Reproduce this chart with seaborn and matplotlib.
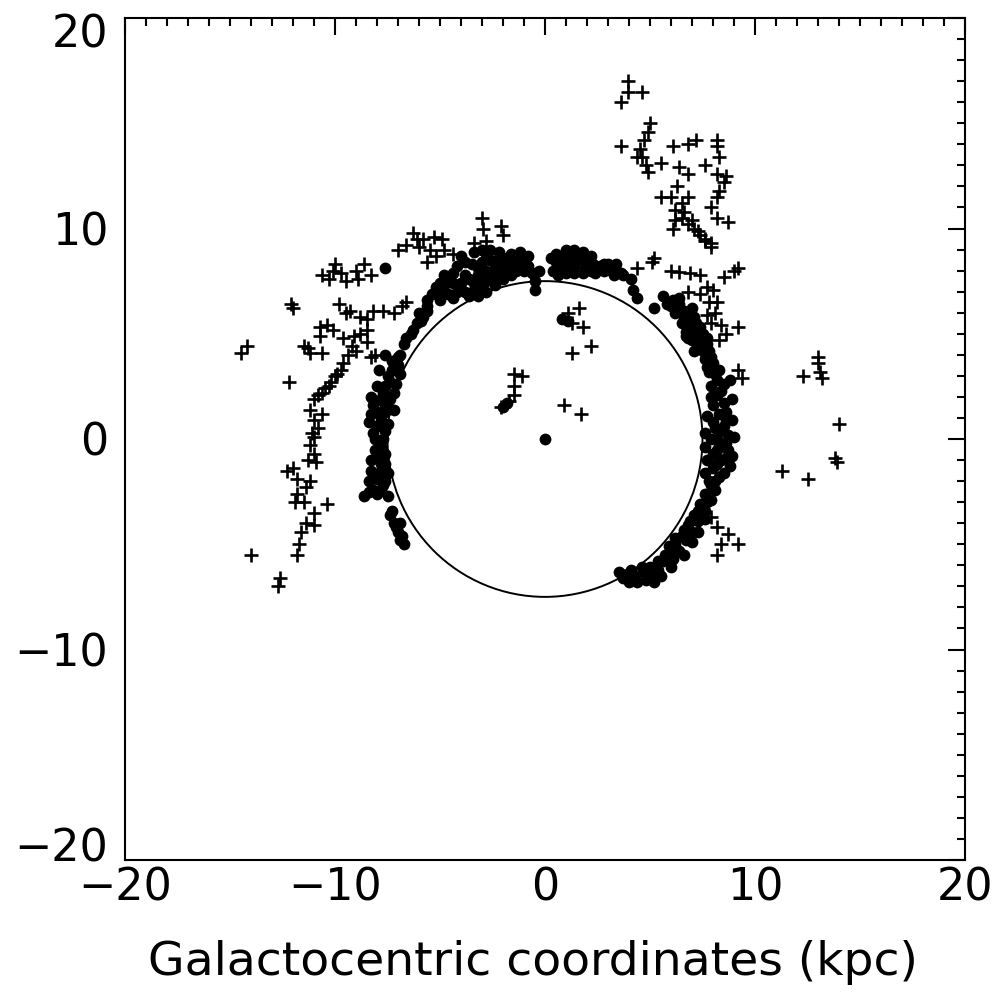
import matplotlib
matplotlib.use("Agg")
import matplotlib.pyplot as plt
import seaborn as sns
import pandas as pd
from matplotlib.patches import Circle
from matplotlib.ticker import MultipleLocator
from matplotlib.transforms import ScaledTranslation

# ---- data (kpc) ----
dots_x = [
    # top-left blob
    -5.4, -5.0, -4.6, -4.2, -3.8, -3.4, -3.0, -2.8, -4.0, -3.6, -3.2, -2.8, -2.4, -2.0, -1.6,
    -1.2, -0.8, -2.6, -2.2, -1.8, -1.4, -1.0, -3.0, -0.6, -0.5, -3.8, -2.4, -5.2,
    -5.6, -5.0, -4.4, -3.6, -4.8, -4.4, -3.4, -3.0, -2.6, -2.2, -1.8, -1.4, -1.0, -2.6, -2.2,
    -1.6, -2.0, -3.2, -3.5, -1.0, -0.5, -0.3,
    -3.8, -4.2, -4.4, -4.0, -3.4, -3.0, -2.8, -1.2, -0.8, -4.8, -5.0, -4.6, -3.2, -2.8, -2.4,
    -2.0, -1.6,
    # top-right blob
    0.4, 0.5, 0.8, 1.2, 1.6, 2.0, 2.3, 0.9, 1.4, 1.9, 2.4, 2.8, 3.2, 3.6, 2.8, 3.4, 3.7,
    0.3, 0.7, 1.1, 1.5, 1.9, 2.2, 2.6, 3.0, 3.3, 1.0, 1.4, 1.8, 0.6,
    0.5, 1.0, 1.4, 1.8, 2.2,
    # upper right arm
    4.1, 4.2, 4.4, 5.2, 5.6, 6.1, 6.3, 6.6, 6.9, 7.1, 7.3, 7.5, 6.9, 7.2, 7.5, 7.7, 6.8, 7.1,
    5.8, 6.2, 6.5, 6.7, 7.0, 7.4, 7.7, 7.0, 6.4, 7.8,
    6.0, 6.4, 6.6, 6.8, 7.1, 7.3, 7.6, 7.0, 6.7,
    # right arm
    7.6, 8.0, 8.3, 7.8, 8.2, 8.5, 7.9, 8.2, 8.5, 8.0, 8.3, 8.6, 8.0, 8.3, 8.7, 7.9, 8.3, 8.7,
    8.0, 8.4, 8.8, 8.0, 8.3, 7.8, 8.1, 7.6, 7.9, 7.4, 7.6, 7.1, 7.3, 6.8, 7.0, 6.5, 6.7, 6.2,
    6.4, 5.9, 6.1, 5.6, 5.4, 5.1, 4.7, 4.3, 3.9, 3.5, 4.8, 4.4, 5.2,
    7.3, 7.6, 7.9, 7.7, 8.1, 8.4, 7.9, 8.6, 8.1, 8.5, 8.2, 8.6, 8.2, 8.6, 8.2, 8.5, 8.1, 7.9,
    7.7, 7.3, 6.9, 6.6, 6.2, 5.9, 5.7, 5.4, 5.0, 4.6, 4.1, 3.7, 4.0, 5.5, 6.0,
    8.8, 8.9, 8.9, 9.0, 8.9, 7.7, 7.6, 7.6, 7.7, 7.6,
    7.6, 7.3, 7.0, 6.6,
    # left side
    -7.6, -5.6, -5.9, -6.3, -6.6, -5.6, -6.0, -6.1, -6.4, -6.7, -5.8,
    -7.6, -7.3, -7.0, -7.9, -7.5, -8.0, -7.7, -8.1, -7.5, -8.0, -8.2, -7.6, -8.1, -7.6, -6.9, -7.2,
    -8.0, -7.6, -8.1, -7.8, -8.0, -7.6, -7.9, -7.6, -7.8, -7.5, -8.4, -8.6,
    -7.4, -7.2, -7.0, -6.9, -6.7,
    -7.3, -7.0, -7.4, -7.6, -7.4, -7.8, -7.2, -7.8, -7.5, -8.2, -7.7, -8.1, -7.6, -7.8, -8.0,
    -7.5, -7.7, -8.0, -8.2, -7.3, -7.1, -6.8, -6.9,
    -6.9, -7.1, -7.2, -8.3, -8.3, -8.4, -8.3, -8.3, -8.4,
    # inside the circle
    0.0, 0.8, 1.1, -2.0, -1.8,
]
dots_y = [
    6.9, 6.9, 6.9, 7.0, 7.0, 7.1, 7.2, 7.5, 7.4, 7.6, 7.8, 8.0, 8.1, 8.2, 8.3,
    8.3, 8.2, 8.5, 8.6, 8.6, 8.5, 8.6, 8.4, 7.9, 7.1, 7.8, 7.7, 7.2,
    6.6, 6.6, 6.7, 6.8, 7.3, 7.4, 7.4, 7.6, 7.8, 7.9, 8.0, 8.0, 8.0, 9.0, 8.9,
    8.8, 8.3, 8.1, 8.3, 8.3, 7.5, 8.0,
    8.4, 8.2, 7.9, 8.7, 8.9, 9.0, 8.8, 8.9, 8.7, 7.8, 7.4, 7.6, 6.8, 7.0, 7.3,
    7.6, 7.8,
    8.0, 8.4, 8.7, 8.8, 8.8, 8.6, 8.3, 8.1, 8.2, 8.1, 7.9, 8.0, 8.0, 7.9, 8.3, 8.3, 7.8,
    8.6, 8.3, 8.4, 8.5, 8.4, 8.0, 8.2, 8.3, 7.8, 7.9, 7.9, 7.9, 7.8,
    8.8, 9.0, 9.0, 8.9, 8.7,
    7.6, 7.1, 6.7, 6.2, 6.8, 6.6, 6.2, 5.8, 5.4, 5.0, 4.6, 4.2, 6.0, 5.5, 5.0, 4.5, 4.8, 4.2,
    6.4, 6.0, 5.5, 5.1, 4.7, 5.3, 4.8, 6.2, 6.7, 4.2,
    6.3, 6.4, 6.1, 5.6, 5.8, 5.0, 4.5, 5.2, 4.9,
    3.8, 3.6, 3.3, 3.2, 2.8, 2.6, 2.5, 2.1, 1.7, 1.6, 1.2, 0.9, 0.8, 0.4, 0.2, 0.0, -0.3, -0.5,
    -0.7, -1.0, -1.3, -1.4, -1.8, -2.0, -2.4, -2.6, -2.9, -3.1, -3.4, -3.6, -3.9, -4.1, -4.4, -4.6, -4.8, -5.0,
    -5.3, -5.4, -5.7, -5.8, -6.2, -6.4, -6.3, -6.5, -6.4, -6.3, -6.7, -6.8, -6.8,
    4.4, 4.2, 3.9, 3.4, 3.1, 2.3, 2.0, 1.3, 0.5, 0.6, 0.0, -0.2, -0.5, -0.9, -1.2, -1.6, -2.0, -2.2,
    -3.0, -3.4, -3.9, -4.3, -4.7, -5.1, -5.5, -5.8, -6.1, -6.1, -6.2, -6.6, -6.8, -6.5, -6.1,
    2.8, 1.9, 0.9, 0.1, -0.8, 1.1, 0.3, -0.4, -1.0, -1.6,
    -3.8, -4.4, -4.9, -5.5,
    8.1, 6.1, 5.6, 5.2, 4.8, 6.3, 6.0, 5.5, 5.0, 4.5, 5.8,
    4.0, 3.7, 3.9, 3.3, 3.0, 2.5, 2.2, 1.8, 1.5, 1.3, 1.6, 1.6, 1.3, 1.3, 4.0, 3.6,
    0.6, 0.4, 0.0, -0.4, -0.9, -1.2, -1.6, -2.0, -2.4, -2.7, -2.5, -2.7,
    -3.6, -4.0, -4.4, -4.8, -5.0,
    3.3, 3.5, 2.7, 2.5, 1.9, 1.9, 1.4, 0.9, 0.7, 0.3, 0.0, -0.5, -0.7, -1.2, -1.9,
    -1.6, -2.2, -2.6, -2.4, -3.4, -4.2, -4.6, -4.0,
    3.1, 2.6, 2.2, 2.0, 1.2, 0.8, -1.0, -1.5, -2.0,
    0.0, 5.7, 5.6, 1.5, 1.7,
]

cross_x = [
    # far left
    -14.5, -14.2, -14.0, -12.7, -12.6, -12.2, -12.1, -12.0,
    # left outer arm
    -11.0, -11.2, -11.0, -10.8, -11.0, -11.2, -11.0, -10.9, -12.3, -12.0, -11.8, -11.2, -11.4,
    -11.8, -11.5, -11.9, -10.4, -11.0, -11.4, -11.6, -11.0, -11.7, -11.8, -11.3, -11.1, -10.6,
    # left diagonal arm
    -8.5, -8.5, -8.8, -9.1, -9.2, -9.4, -9.6, -9.9, -10.2, -10.5, -10.8, -8.3, -8.1, -9.0, -9.7,
    -10.0, -10.3, -10.6,
    # row at y~6
    -9.8, -9.3, -8.8, -8.5, -8.2, -7.7, -7.2, -6.8, -6.6, -9.5,
    # small clusters
    -10.7, -10.4, -10.1, -10.7, -9.6, -11.5, -11.2, -11.3, -10.6,
    # row at y~8
    -10.6, -10.3, -10.0, -9.7, -9.5, -9.0, -8.6, -8.3, -8.9, -10.1,
    # upper crosses
    -7.0, -6.6, -6.3, -6.1, -5.8, -5.5, -5.3, -4.9, -4.8, -4.4, -5.6, -5.2, -6.0,
    -3.0, -2.95, -2.1, -2.0, -3.4, -2.8,
    # inside
    -1.5, -1.1, -1.5, -1.5, -1.7, -2.1, 1.6, 1.8, 1.3, 2.2, 0.9, 1.7, 1.1, 1.3,
    # right, upper
    4.4, 5.1, 6.0, 6.4, 6.9, 7.4, 8.5, 9.0, 9.2, 6.8, 7.7, 8.0, 7.4, 7.8, 8.1, 8.4, 8.6, 7.7,
    7.9, 9.2, 9.2, 9.4, 7.9, 7.6, 8.2, 8.3, 5.2,
    # right, lower
    7.9, 8.2, 8.7, 9.2, 8.4, 8.2,
    # far right
    13.0, 13.0, 13.1, 13.2, 12.3, 14.0, 13.8, 13.9, 11.3, 12.5,
    # top-right cluster
    3.95, 3.95, 3.6, 4.6, 5.0, 4.9, 4.7, 4.5, 4.6, 4.8, 4.9, 3.6, 4.4, 5.5, 6.1, 6.8, 7.2, 8.2,
    8.2, 8.3, 7.6, 8.2, 8.5, 8.3, 8.6, 8.2, 7.9, 8.2, 8.7, 6.4, 6.8, 6.3, 5.5, 6.0, 6.5, 6.8,
    6.2, 6.6, 6.2, 6.1, 6.5, 6.8, 7.1, 7.4, 7.6, 7.9, 7.0, 7.3,
]
cross_y = [
    4.1, 4.4, -5.5, -7.0, -6.6, 2.7, 6.4, 6.2,
    1.9, 1.4, 0.9, 0.5, 0.1, -0.3, -0.7, -1.1, -1.5, -1.4, -1.9, -2.0, -2.3,
    -2.6, -3.0, -3.0, -3.1, -3.5, -4.0, -4.4, -4.1, -5.0, -5.5, -1.0, 0.3, 1.2,
    5.2, 4.6, 5.0, 4.9, 4.4, 4.0, 3.6, 3.1, 2.7, 2.4, 2.1, 3.9, 4.0, 4.2, 3.3,
    3.0, 2.5, 2.2,
    6.4, 6.1, 5.8, 5.7, 6.1, 6.1, 6.0, 6.3, 6.5, 6.0,
    5.3, 5.4, 5.2, 4.9, 4.8, 4.4, 4.1, 4.3, 4.1,
    7.8, 7.6, 8.3, 7.9, 7.5, 8.0, 8.3, 7.8, 7.6, 8.0,
    9.0, 9.2, 9.8, 9.5, 9.5, 9.0, 9.6, 9.5, 9.0, 8.8, 8.4, 8.7, 9.1,
    10.5, 10.0, 10.1, 9.7, 9.3, 9.4,
    3.1, 3.0, 2.5, 2.1, 1.8, 1.5, 6.2, 5.3, 4.1, 4.4, 1.6, 1.2, 6.0, 5.5,
    8.1, 8.4, 8.0, 7.95, 7.9, 7.8, 7.7, 8.0, 8.1, 7.0, 7.2, 7.1, 6.9, 6.5, 6.0, 5.4, 5.0, 5.9,
    5.5, 5.3, 3.3, 2.9, 9.3, 9.5, 6.5, 4.7, 8.6,
    -3.7, -4.2, -4.5, -5.0, -5.0, -5.5,
    3.9, 3.6, 3.2, 2.9, 3.0, 0.7, -0.9, -1.1, -1.5, -1.9,
    17.0, 16.5, 16.0, 16.5, 15.0, 14.6, 14.2, 13.8, 13.4, 13.0, 12.7, 13.9, 13.4, 13.1, 13.9, 14.0, 14.2, 14.2,
    13.9, 13.4, 13.0, 12.6, 12.2, 11.8, 12.5, 11.5, 11.0, 10.5, 10.3, 12.9, 12.6, 12.0, 11.5, 11.5, 11.2, 11.5,
    10.9, 10.8, 10.4, 10.0, 10.5, 10.2, 10.0, 9.7, 9.4, 9.1, 10.4, 9.9,
]

circle_radius = 7.5
x_ticks = [-20, -10, 0, 10, 20]
y_ticks = [-20, -10, 0, 10, 20]
x_label = "Galactocentric coordinates (kpc)"

dots = pd.DataFrame({"x": dots_x, "y": dots_y})
crosses = pd.DataFrame({"x": cross_x, "y": cross_y})

# ---- figure ----
sns.set_style("white")
plt.rcParams["font.family"] = ["DejaVu Sans"]

fig = plt.figure(figsize=(10.02, 9.94), dpi=100)
ax = fig.add_axes([125 / 1002, 1 - 860 / 994, 840 / 1002, 842 / 994])

sns.scatterplot(data=dots, x="x", y="y", ax=ax, color="black", marker="o",
                s=72, linewidth=0, legend=False)
sns.scatterplot(data=crosses, x="x", y="y", ax=ax, color="black", marker="+",
                s=100, linewidth=1.9, legend=False)

ax.add_patch(Circle((0, 0), circle_radius, fill=False, color="black", lw=1.4))

ax.set_xlim(-20, 20)
ax.set_ylim(-20, 20)
ax.set_xticks(x_ticks)
ax.set_yticks(y_ticks)
ax.xaxis.set_minor_locator(MultipleLocator(1))
ax.yaxis.set_minor_locator(MultipleLocator(1))
ax.tick_params(which="both", direction="in", top=True, right=True, color="black",
               width=1.5, labelcolor="black")
ax.tick_params(which="major", length=12)
ax.tick_params(which="minor", length=6)
ax.tick_params(axis="x", which="major", labelsize=32, pad=5)
ax.tick_params(axis="y", which="major", labelsize=32, pad=12)
for sp in ax.spines.values():
    sp.set_color("black")
    sp.set_linewidth(1.5)

# IDL-style: keep the end labels of the y axis inside the frame height
yt = ax.yaxis.get_major_ticks()
yt[-1].label1.set_transform(yt[-1].label1.get_transform()
                            + ScaledTranslation(0, -0.12, fig.dpi_scale_trans))
yt[0].label1.set_transform(yt[0].label1.get_transform()
                           + ScaledTranslation(0, 0.16, fig.dpi_scale_trans))

ax.set_xlabel(x_label, fontsize=34, labelpad=18, color="black")
ax.xaxis.set_label_coords(0.486, -0.095)
ax.set_ylabel("")

fig.savefig("out.png", dpi=100, facecolor="white")
